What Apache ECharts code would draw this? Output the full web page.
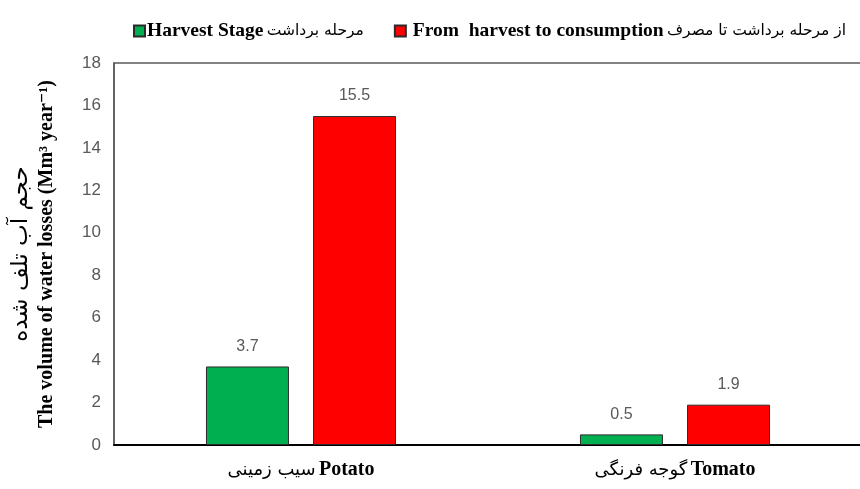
<!DOCTYPE html>
<html>
<head>
<meta charset="utf-8">
<script src="https://cdn.jsdelivr.net/npm/echarts@6/dist/echarts.min.js"></script>
<style>html,body{margin:0;padding:0;background:#fff}#c{width:860px;height:489px}</style>
</head>
<body>
<div id="c"></div>
<script>
const categoriesFa = ['سیب زمینی', 'گوجه فرنگی'];
const categoriesEn = ['Potato', 'Tomato'];
const seriesNamesEn = ['Harvest Stage', ' From  harvest to consumption'];
const seriesNamesFa = ['مرحله برداشت', 'از مرحله برداشت تا مصرف'];
const harvestStage = [3.7, 0.5];
const harvestToConsumption = [15.5, 1.9];
const yTicks = [0, 2, 4, 6, 8, 10, 12, 14, 16, 18];
const yNameFa = 'حجم آب تلف شده';
const yNameEn = 'The volume of water losses (Mm³ year⁻¹)';

const categories = categoriesEn.map((e, i) => categoriesFa[i] + ' ' + e);
const seriesNames = seriesNamesEn.map((e, i) => e + ' ' + seriesNamesFa[i]);

const chart = echarts.init(document.getElementById('c'), null, {renderer: 'canvas'});
const serif = '"Liberation Serif", "Times New Roman", "DejaVu Serif", serif';
const fa = '"DejaVu Sans", sans-serif';
const labelStyle = {show: true, position: 'top', distance: 12, color: '#595959', fontSize: 16, fontFamily: '"Liberation Sans", Arial, sans-serif'};
chart.setOption({
  animation: false,
  backgroundColor: '#fff',
  legend: {
    left: 128, top: 16,
    itemWidth: 11, itemHeight: 11, itemGap: 30,
    icon: 'rect',
    formatter: name => {
      const i = seriesNames.indexOf(name);
      return '{en|' + seriesNamesEn[i] + '} {fa|' + seriesNamesFa[i] + '}';
    },
    textStyle: {
      padding: [0, 0, 0, -3],
      rich: {
        en: {fontFamily: serif, fontWeight: 'bold', fontSize: 19.5, color: '#000'},
        fa: {fontFamily: fa, fontSize: 15.5, color: '#000'}
      }
    },
    data: seriesNames
  },
  grid: {left: 114, right: -2, top: 63, bottom: 44, show: true, borderColor: '#595959', borderWidth: 1.5, outerBoundsMode: 'none', containLabel: false},
  xAxis: {
    type: 'category', data: categories,
    axisLine: {lineStyle: {color: '#000', width: 2}},
    axisTick: {show: false},
    axisLabel: {
      margin: 15,
      formatter: (v, i) => '{fa|' + categoriesFa[i] + '} {en|' + categoriesEn[i] + '}',
      rich: {
        en: {fontFamily: serif, fontWeight: 'bold', fontSize: 20, color: '#000'},
        fa: {fontFamily: fa, fontSize: 18, color: '#000'}
      }
    }
  },
  yAxis: {
    type: 'value', min: 0, max: 18, interval: 2,
    axisLine: {show: true, lineStyle: {color: '#595959', width: 1.5}},
    axisTick: {show: false},
    splitLine: {show: false},
    axisLabel: {margin: 13, color: '#595959', fontSize: 17, fontFamily: '"Liberation Sans", Arial, sans-serif',
      formatter: v => yTicks.includes(v) ? String(v) : ''},
    name: '{fa|' + yNameFa + '}\n{en|' + yNameEn + '}',
    nameLocation: 'middle', nameRotate: 90, nameGap: 54,
    nameTextStyle: {
      align: 'center',
      rich: {
        fa: {fontFamily: fa, fontSize: 23, color: '#000', lineHeight: 26, align: 'center'},
        en: {fontFamily: serif, fontWeight: 'bold', fontSize: 20, color: '#000', lineHeight: 26, align: 'center'}
      }
    }
  },
  series: [
    {name: seriesNames[0], type: 'bar', data: harvestStage, barWidth: 83, barGap: '29%',
     itemStyle: {color: '#00B050', borderColor: '#2b2b2b', borderWidth: 1}, label: labelStyle},
    {name: seriesNames[1], type: 'bar', data: harvestToConsumption, barWidth: 83,
     itemStyle: {color: '#FF0000', borderColor: '#2b2b2b', borderWidth: 1}, label: labelStyle}
  ]
});
</script>
</body>
</html>
